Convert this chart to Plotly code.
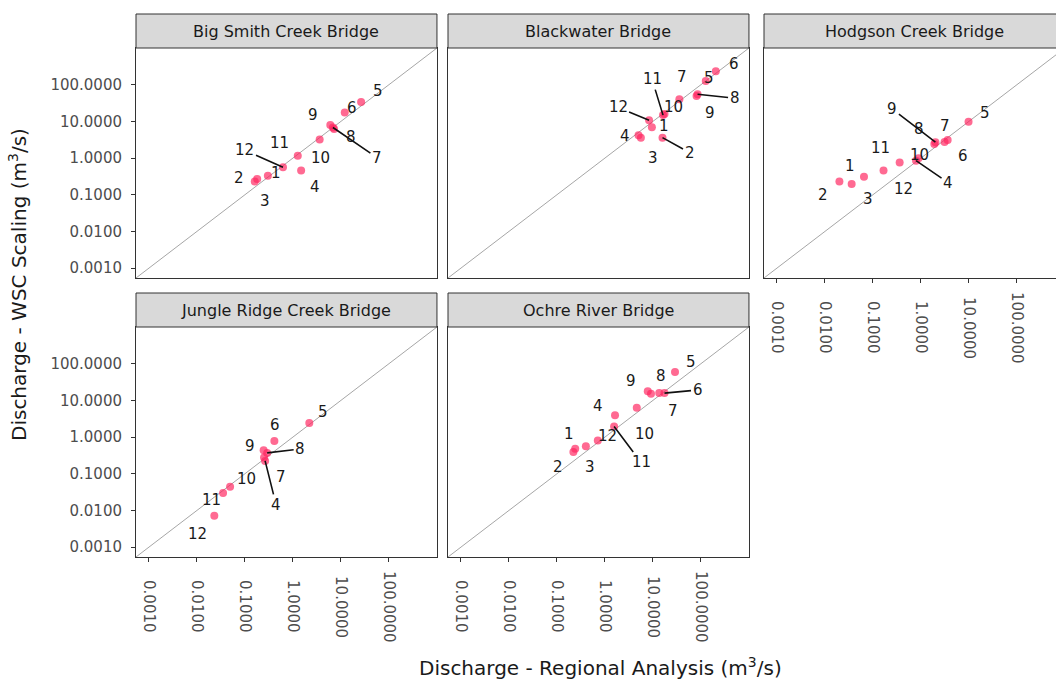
import math
import plotly.graph_objects as go

# ---------------- data ----------------
panel_names = ["Big Smith Creek Bridge", "Blackwater Bridge", "Hodgson Creek Bridge",
               "Jungle Ridge Creek Bridge", "Ochre River Bridge"]

bigsmith_month = [1, 2, 3, 4, 5, 6, 7, 8, 9, 10, 11, 12]
bigsmith_regional = [0.30, 0.16, 0.18, 1.48, 26.3, 12.0, 6.8, 7.2, 6.0, 3.6, 1.26, 0.62]
bigsmith_wsc = [0.33, 0.23, 0.27, 0.46, 33.9, 17.4, 6.8, 6.2, 7.9, 3.2, 1.15, 0.56]

blackwater_month = [1, 2, 3, 4, 5, 6, 7, 8, 9, 10, 11, 12]
blackwater_regional = [9.5, 15.8, 5.6, 5.0, 126, 204, 35.5, 85, 81, 17.4, 16.2, 8.3]
blackwater_wsc = [6.9, 3.6, 3.6, 4.2, 126, 234, 39.8, 55, 49, 15.8, 14.8, 10.7]

hodgson_month = [1, 2, 3, 4, 5, 6, 7, 8, 9, 10, 11, 12]
hodgson_regional = [0.036, 0.020, 0.065, 0.79, 9.8, 3.1, 3.6, 1.9, 2.0, 0.89, 0.166, 0.36]
hodgson_wsc = [0.195, 0.23, 0.31, 0.85, 9.8, 2.75, 3.1, 2.4, 2.7, 0.98, 0.46, 0.76]

jungle_month = [4, 5, 6, 7, 8, 9, 10, 11, 12]
jungle_regional = [0.263, 2.19, 0.41, 0.25, 0.29, 0.245, 0.049, 0.035, 0.023]
jungle_wsc = [0.224, 2.40, 0.78, 0.275, 0.37, 0.44, 0.044, 0.030, 0.0071]

ochre_month = [1, 2, 3, 4, 5, 6, 7, 8, 9, 10, 11, 12]
ochre_regional = [0.24, 0.22, 0.40, 1.62, 28.8, 17.4, 9.1, 13.5, 7.8, 4.6, 1.55, 0.71]
ochre_wsc = [0.48, 0.39, 0.56, 3.9, 58.9, 15.8, 15.1, 15.8, 17.8, 6.3, 1.95, 0.81]

tick_values = [0.001, 0.01, 0.1, 1, 10, 100]
tick_labels = ["0.0010", "0.0100", "0.1000", "1.0000", "10.0000", "100.0000"]

# ---------------- label placement (pixel offsets, screen coords) ----------------
bigsmith_off = [(8, -3), (-16, -3), (8, 22), (14, 17), (17, -11), (7, -5), (44, 30),
                (17, 8), (-17, -10), (1, 18), (-18, -13), (-38, -17)]
bigsmith_arrow = [7, 12]
blackwater_off = [(12, -1), (27, 15), (12, 20), (-14, 1), (3, -3), (18, -7), (3, -22),
                  (37, 4), (13, 17), (9, -7), (-11, -36), (-31, -13)]
blackwater_arrow = [2, 8, 11, 12]
hodgson_off = [(-2, -18), (-16, 14), (4, 22), (32, 22), (16, -9), (18, 14), (-3, -14),
               (-15, -15), (-43, -33), (1, -3), (-3, -22), (4, 27)]
hodgson_arrow = [4, 9]
jungle_off = [(11, 44), (14, -11), (1, -16), (17, 19), (33, -4), (-14, -4), (16, -8),
              (-12, 7), (-17, 18)]
jungle_arrow = [4, 8]
ochre_off = [(-6, -15), (-15, 15), (4, 21), (-17, -9), (16, -10), (33, -3), (22, 17),
             (2, -17), (-17, -10), (8, 26), (27, 36), (10, -4)]
ochre_arrow = [6, 11]

panels = [
    (bigsmith_month, bigsmith_regional, bigsmith_wsc, bigsmith_off, bigsmith_arrow),
    (blackwater_month, blackwater_regional, blackwater_wsc, blackwater_off, blackwater_arrow),
    (hodgson_month, hodgson_regional, hodgson_wsc, hodgson_off, hodgson_arrow),
    (jungle_month, jungle_regional, jungle_wsc, jungle_off, jungle_arrow),
    (ochre_month, ochre_regional, ochre_wsc, ochre_off, ochre_arrow),
]

# ---------------- layout geometry ----------------
W, H = 1056, 681
LO, HI = -3.27, 3.0
PX_PER_DEC = 48.0
col_px = [136, 448, 764]
row_px = [(48, 278), (327, 557)]
strip_h = 34
FONT = "DejaVu Sans, Verdana, sans-serif"
INK = "#1A1A1A"
FRAME = "#333333"
TICKTXT = "#4D4D4D"
POINT = "rgba(255,35,95,0.68)"

fig = go.Figure()
layout = dict(
    width=W, height=H, margin=dict(l=0, r=0, t=0, b=0),
    paper_bgcolor="white", plot_bgcolor="white", showlegend=False,
    font=dict(family=FONT, color=INK),
)
shapes, annotations = [], []

positions = [(0, 0), (0, 1), (0, 2), (1, 0), (1, 1)]
for i, (row, col) in enumerate(positions):
    k = i + 1
    xname = "x" if k == 1 else f"x{k}"
    yname = "y" if k == 1 else f"y{k}"
    x0 = col_px[col]
    x1 = min(x0 + (HI - LO) * PX_PER_DEC, W)
    xhi = LO + (x1 - x0) / PX_PER_DEC
    top, bot = row_px[row]
    show_x = (row == 1) or (col == 2)
    show_y = col == 0

    layout["xaxis" if k == 1 else f"xaxis{k}"] = dict(
        domain=[x0 / W, x1 / W], anchor=yname, type="log", range=[LO, xhi],
        showgrid=False, zeroline=False, showline=True, mirror=True,
        linecolor=FRAME, linewidth=1,
        tickvals=tick_values, ticktext=tick_labels, showticklabels=False,
        ticks="outside" if show_x else "", ticklen=4, tickcolor=FRAME, tickwidth=1,
    )
    layout["yaxis" if k == 1 else f"yaxis{k}"] = dict(
        domain=[1 - bot / H, 1 - top / H], anchor=xname, type="log", range=[LO, HI],
        showgrid=False, zeroline=False, showline=True, mirror=(col != 2),
        linecolor=FRAME, linewidth=1,
        tickvals=tick_values, ticktext=tick_labels,
        showticklabels=show_y, ticks="outside" if show_y else "",
        ticklen=4, tickcolor=FRAME, tickwidth=1, ticklabelstandoff=6,
        tickfont=dict(size=15, color=TICKTXT, family=FONT),
    )

    # rotated, centre-aligned x tick labels (as in the reference)
    if show_x:
        for tv, tl in zip(tick_values, tick_labels):
            annotations.append(dict(
                x=math.log10(tv), xref=xname, y=1 - (bot + 50) / H, yref="paper",
                text=tl, textangle=90, showarrow=False, xanchor="center", yanchor="middle",
                font=dict(size=15, color=TICKTXT, family=FONT)))

    # diagonal 1:1 line spanning the axis range
    fig.add_trace(go.Scatter(
        x=[10 ** LO, 10 ** HI], y=[10 ** LO, 10 ** HI], mode="lines",
        line=dict(color="#A6A6A6", width=1), xaxis=xname, yaxis=yname,
        hoverinfo="skip"))

    months, xr, yw, offs, arrows = panels[i]
    fig.add_trace(go.Scatter(
        x=xr, y=yw, mode="markers", marker=dict(size=8, color=POINT, line=dict(width=0)),
        xaxis=xname, yaxis=yname, text=[str(m) for m in months]))

    for m, xv, yv, (dx, dy) in zip(months, xr, yw, offs):
        lx, ly = math.log10(xv), math.log10(yv)
        if m in arrows:
            annotations.append(dict(
                x=lx, y=ly, xref=xname, yref=yname, text=str(m), showarrow=True,
                ax=dx, ay=dy, arrowhead=0, arrowwidth=1.6, arrowcolor="#111111",
                standoff=0, font=dict(size=15, color=INK, family=FONT)))
        else:
            annotations.append(dict(
                x=lx, y=ly, xref=xname, yref=yname, text=str(m), showarrow=False,
                xshift=dx, yshift=-dy, xanchor="center", yanchor="middle",
                font=dict(size=15, color=INK, family=FONT)))

    # facet strip
    full_x1 = x0 + (HI - LO) * PX_PER_DEC
    shapes.append(dict(
        type="rect", xref="paper", yref="paper",
        x0=x0 / W, x1=full_x1 / W, y0=1 - top / H, y1=1 - (top - strip_h) / H,
        fillcolor="#D9D9D9", line=dict(color=FRAME, width=1), layer="above"))
    annotations.append(dict(
        x=(x0 + full_x1) / 2 / W, y=1 - (top - strip_h / 2) / H, xref="paper", yref="paper",
        text=panel_names[i], showarrow=False, xanchor="center", yanchor="middle",
        font=dict(size=16, color=INK, family=FONT)))

# axis titles
annotations.append(dict(
    x=600 / W, y=1 - 667 / H, xref="paper", yref="paper",
    text="Discharge - Regional Analysis (m<sup>3</sup>/s)", showarrow=False,
    xanchor="center", yanchor="middle", font=dict(size=20, color=INK, family=FONT)))
annotations.append(dict(
    x=18 / W, y=1 - 285 / H, xref="paper", yref="paper",
    text="Discharge - WSC Scaling (m<sup>3</sup>/s)", showarrow=False, textangle=-90,
    xanchor="center", yanchor="middle", font=dict(size=20, color=INK, family=FONT)))

layout["shapes"] = shapes
layout["annotations"] = annotations
fig.update_layout(**layout)

fig.write_html("out.html", config={"displayModeBar": False},
               post_script="document.body.style.margin='0';")
